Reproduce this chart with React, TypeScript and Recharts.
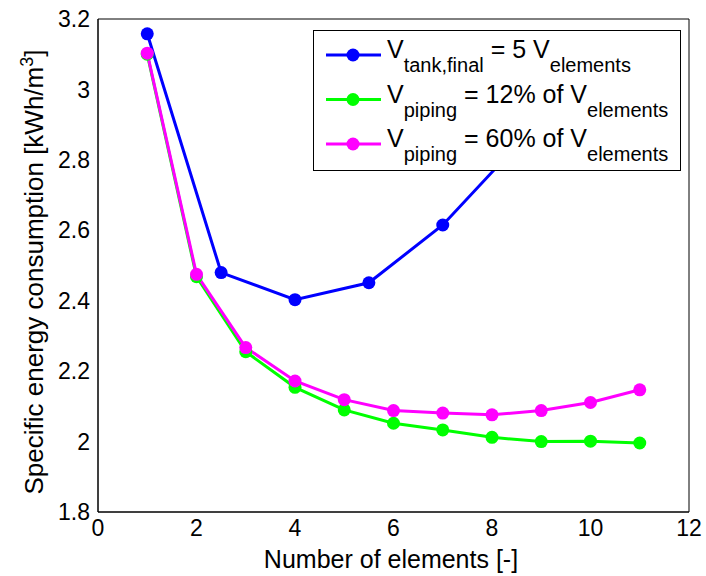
import React from 'react';
import { LineChart, Line, XAxis, YAxis, Legend } from 'recharts';

// values
const tankElements = [1, 2.5, 4, 5.5, 7, 8.5, 10];
const tankEnergy = [3.158, 2.48, 2.403, 2.451, 2.615, 2.84, 3.07];

const pipingElements = [1, 2, 3, 4, 5, 6, 7, 8, 9, 10, 11];
const piping12Energy = [3.1, 2.468, 2.255, 2.154, 2.09, 2.052, 2.033, 2.012, 2.0, 2.001, 1.996];
const piping60Energy = [3.103, 2.475, 2.267, 2.172, 2.119, 2.088, 2.081, 2.076, 2.088, 2.111, 2.147];

const xTicks = [0, 2, 4, 6, 8, 10, 12];
const yTicks = [1.8, 2, 2.2, 2.4, 2.6, 2.8, 3, 3.2];

const font = "'Liberation Sans', Arial, Helvetica, sans-serif";

const series = [
  { id: 'tank', color: '#0000ff', x: tankElements, y: tankEnergy, main: 'V', sub: 'tank,final', rest: ' = 5 V' },
  { id: 'p12', color: '#00ff00', x: pipingElements, y: piping12Energy, main: 'V', sub: 'piping', rest: ' = 12% of V' },
  { id: 'p60', color: '#ff00ff', x: pipingElements, y: piping60Energy, main: 'V', sub: 'piping', rest: ' = 60% of V' },
];

const seriesData = series.map((s) => s.x.map((x, i) => ({ x, y: s.y[i] })));

const noTick = () => <g />;

function YLabel() {
  const cx = 43;
  const cy = 272;
  return (
    <text x={cx} y={cy} transform={`rotate(-90 ${cx} ${cy})`} textAnchor="middle"
      fontSize={26} fontFamily={font} fill="#000">
      Specific energy consumption [kWh/m<tspan dy={-10} fontSize={18}>3</tspan><tspan dy={10}>]</tspan>
    </text>
  );
}

function XLabel() {
  return (
    <text x={391} y={568} textAnchor="middle" fontSize={25} fontFamily={font} fill="#000">
      Number of elements [-]
    </text>
  );
}

function LegendBox() {
  const rowH = 44.5;
  return (
    <svg width={368} height={141} style={{ display: 'block' }}>
      <rect x={0.5} y={0.5} width={367} height={140} fill="#fff" stroke="#000" strokeWidth={1} />
      {series.map((s, i) => {
        const ly = 25 + i * rowH;
        const by = 28 + i * rowH;
        return (
          <g key={s.id}>
            <line x1={13} x2={68} y1={ly} y2={ly} stroke={s.color} strokeWidth={3} />
            <circle cx={40} cy={ly} r={6.5} fill={s.color} />
            <text x={74} y={by} fontSize={25} fontFamily={font} fill="#000">
              {s.main}
              <tspan fontSize={20} dy={14}>{s.sub}</tspan>
              <tspan fontSize={25} dy={-14}>{s.rest}</tspan>
              <tspan fontSize={20} dy={14}>elements</tspan>
            </text>
          </g>
        );
      })}
    </svg>
  );
}

export default function App() {
  const tickStyle = { fill: '#000', fontSize: 23, fontFamily: font };
  return (
    <div style={{ position: 'absolute', left: 0, top: 0, width: 706, height: 576, background: '#fff' }}>
      <LineChart width={706} height={576} margin={{ top: 19, right: 17, left: 0, bottom: 0 }}>
        <XAxis dataKey="x" type="number" domain={[0, 12]} ticks={xTicks} height={64}
          tickLine={false} tickSize={0} tickMargin={8} tick={tickStyle}
          axisLine={{ stroke: '#000' }} allowDataOverflow />
        <YAxis type="number" domain={[1.8, 3.2]} ticks={yTicks} width={98}
          tickLine={false} tickSize={0} tickMargin={8} tick={tickStyle}
          axisLine={{ stroke: '#000' }} allowDataOverflow />
        <XAxis xAxisId="bm" orientation="bottom" mirror type="number" domain={[0, 12]} ticks={xTicks}
          tick={noTick} tickSize={5} tickLine={{ stroke: '#262626' }} axisLine={{ stroke: '#000' }} />
        <XAxis xAxisId="tm" orientation="top" mirror type="number" domain={[0, 12]} ticks={xTicks}
          tick={noTick} tickSize={5} tickLine={{ stroke: '#262626' }} axisLine={{ stroke: '#000' }} />
        <YAxis yAxisId="lm" orientation="left" mirror type="number" domain={[1.8, 3.2]} ticks={yTicks}
          tick={noTick} tickSize={5} tickLine={{ stroke: '#262626' }} axisLine={{ stroke: '#000' }} />
        <YAxis yAxisId="rm" orientation="right" mirror type="number" domain={[1.8, 3.2]} ticks={yTicks}
          tick={noTick} tickSize={5} tickLine={{ stroke: '#262626' }} axisLine={{ stroke: '#000' }} />
        {series.map((s, i) => (
          <Line key={s.id} data={seriesData[i]} dataKey="y" type="linear" stroke={s.color}
            strokeWidth={3} dot={{ r: 6.5, fill: s.color, stroke: s.color, strokeWidth: 0 }}
            isAnimationActive={false} />
        ))}
        <Legend layout="vertical" verticalAlign="middle" align="center" content={<LegendBox />}
          wrapperStyle={{ left: 313, top: 30, width: 368, height: 141 }} />
        <XLabel />
        <YLabel />
      </LineChart>
    </div>
  );
}
